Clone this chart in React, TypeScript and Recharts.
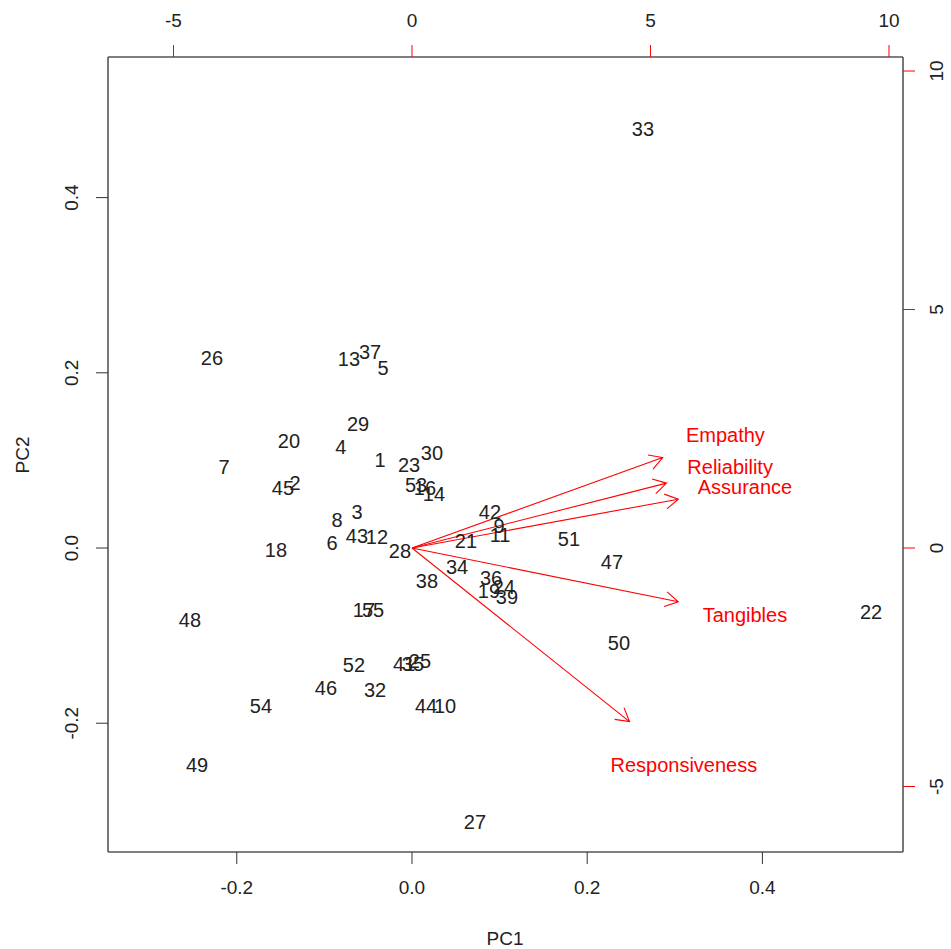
import { ScatterChart, Scatter, XAxis, YAxis, ReferenceLine, Label } from "recharts";

// observation scores (PC1, PC2)
const obsLabels = ["1", "2", "3", "4", "5", "6", "7", "8", "9", "10", "11", "12", "13", "14", "16", "17", "18", "19", "20", "21", "22", "23", "24", "25", "26", "27", "28", "29", "30", "32", "33", "34", "35", "36", "37", "38", "39", "41", "42", "43", "44", "45", "46", "47", "48", "49", "50", "51", "52", "53", "54", "55"];
const obsPc1 = [-0.0365, -0.1336, -0.0628, -0.0811, -0.0331, -0.0913, -0.2146, -0.0856, 0.0993, 0.0377, 0.1005, -0.04, -0.0719, 0.0251, 0.0148, -0.0548, -0.1553, 0.0879, -0.1404, 0.0616, 0.524, -0.0034, 0.105, 0.0091, -0.2283, 0.0719, -0.0137, -0.0616, 0.0228, -0.0422, 0.2637, 0.0514, 0.0011, 0.0902, -0.0479, 0.0171, 0.1084, -0.0091, 0.089, -0.0628, 0.016, -0.1473, -0.0982, 0.2283, -0.2534, -0.2454, 0.2363, 0.1792, -0.0662, 0.0046, -0.1724, -0.0445];
const obsPc2 = [0.1005, 0.0742, 0.0411, 0.1153, 0.2055, 0.0057, 0.0925, 0.032, 0.0251, -0.1804, 0.0148, 0.0126, 0.2158, 0.0616, 0.0685, -0.0708, -0.0023, -0.0491, 0.1221, 0.008, -0.0731, 0.0947, -0.0445, -0.129, 0.2169, -0.3128, -0.0034, 0.1416, 0.1084, -0.1621, 0.4783, -0.0217, -0.1324, -0.0342, 0.2237, -0.0377, -0.0559, -0.1324, 0.0411, 0.0137, -0.1804, 0.0685, -0.1598, -0.016, -0.0822, -0.2477, -0.1084, 0.0103, -0.1336, 0.0719, -0.1804, -0.0708];

// variable loadings (label positions, top/right scale)
const varNames = ["Empathy", "Reliability", "Assurance", "Tangibles", "Responsiveness"];
const varPc1 = [6.57, 6.67, 6.98, 6.98, 5.7];
const varPc2 = [2.37, 1.7, 1.28, -1.41, -4.55];

const pcTicks = [-0.2, 0, 0.2, 0.4];
const loadTicks = [-5, 0, 5, 10];

const pcDomain = [-0.347, 0.5605];
const loadDomain = [-6.373, 10.294];

const obsData = obsLabels.map((label, i) => ({ label, x: obsPc1[i], y: obsPc2[i] }));
const varData = varNames.map((label, i) => ({ label, x: varPc1[i], y: varPc2[i] }));

const FONT = "'Liberation Sans', Arial, sans-serif";
const RED = "#ff0000";
const FRAME = "#555";
const TICK_FS = 19;
const LABEL_FS = 20;

const HTick = (props: any) => {
  const { x, y, payload, fmt } = props;
  return (
    <text x={x} y={y} textAnchor="middle" dominantBaseline="central" fontSize={TICK_FS} fontFamily={FONT} fill="#222">
      {fmt(payload.value)}
    </text>
  );
};

const VTick = (props: any) => {
  const { x, y, payload, fmt } = props;
  return (
    <text x={x} y={y} transform={`rotate(-90, ${x}, ${y})`} textAnchor="middle" dominantBaseline="central" fontSize={TICK_FS} fontFamily={FONT} fill="#222">
      {fmt(payload.value)}
    </text>
  );
};

const pcFmt = (v: number) => v.toFixed(1);
const loadFmt = (v: number) => String(v);

const Arrow = (p: any) => {
  const { x1, y1, x2, y2 } = p;
  const a = Math.atan2(y2 - y1, x2 - x1);
  const len = 15;
  const spread = Math.PI / 6;
  const h1x = x2 - len * Math.cos(a - spread);
  const h1y = y2 - len * Math.sin(a - spread);
  const h2x = x2 - len * Math.cos(a + spread);
  const h2y = y2 - len * Math.sin(a + spread);
  return (
    <path
      d={`M${x1},${y1}L${x2},${y2}M${h1x},${h1y}L${x2},${y2}L${h2x},${h2y}`}
      stroke={RED}
      strokeWidth={1.1}
      fill="none"
    />
  );
};

const ObsText = (p: any) => (
  <text x={p.cx} y={p.cy} textAnchor="middle" dominantBaseline="central" fontSize={LABEL_FS} fontFamily={FONT} fill="#222">
    {p.payload.label}
  </text>
);

const VarText = (p: any) => (
  <text x={p.cx} y={p.cy} textAnchor="middle" dominantBaseline="central" fontSize={LABEL_FS} fontFamily={FONT} fill={RED}>
    {p.payload.label}
  </text>
);

export default function App() {
  return (
    <div style={{ position: "absolute", left: 0, top: 0, width: 951, height: 949, background: "#fff" }}>
      <ScatterChart width={951} height={949} margin={{ top: 0, right: 0, bottom: 0, left: 0 }}>
        <XAxis
          xAxisId="pc"
          dataKey="x"
          type="number"
          orientation="bottom"
          domain={pcDomain}
          ticks={pcTicks}
          allowDataOverflow
          height={97}
          tickSize={12}
          tickMargin={23}
          axisLine={{ stroke: FRAME, strokeWidth: 1.6 }}
          tickLine={{ stroke: "#333" }}
          tick={<HTick fmt={pcFmt} />}
        >
          <Label
            content={() => (
              <text x={505} y={938} textAnchor="middle" dominantBaseline="central" fontSize={TICK_FS} fontFamily={FONT} fill="#222">
                PC1
              </text>
            )}
          />
        </XAxis>
        <XAxis
          xAxisId="load"
          dataKey="x"
          type="number"
          orientation="top"
          domain={loadDomain}
          ticks={loadTicks}
          allowDataOverflow
          height={57}
          tickSize={12}
          tickMargin={25}
          axisLine={{ stroke: FRAME, strokeWidth: 1.6 }}
          tickLine={{ stroke: RED }}
          tick={<HTick fmt={loadFmt} />}
        />
        <YAxis
          yAxisId="pc"
          dataKey="y"
          type="number"
          orientation="left"
          domain={pcDomain}
          ticks={pcTicks}
          allowDataOverflow
          width={108}
          tickSize={12}
          tickMargin={24}
          axisLine={{ stroke: FRAME, strokeWidth: 1.6 }}
          tickLine={{ stroke: "#333" }}
          tick={<VTick fmt={pcFmt} />}
        >
          <Label
            content={() => (
              <text x={22} y={455} transform="rotate(-90, 22, 455)" textAnchor="middle" dominantBaseline="central" fontSize={TICK_FS} fontFamily={FONT} fill="#222">
                PC2
              </text>
            )}
          />
        </YAxis>
        <YAxis
          yAxisId="load"
          dataKey="y"
          type="number"
          orientation="right"
          domain={loadDomain}
          ticks={loadTicks}
          allowDataOverflow
          width={48}
          tickSize={12}
          tickMargin={22}
          axisLine={{ stroke: FRAME, strokeWidth: 1.6 }}
          tickLine={{ stroke: RED }}
          tick={<VTick fmt={loadFmt} />}
        />
        {varData.map((v) => (
          <ReferenceLine
            key={v.label}
            xAxisId="load"
            yAxisId="load"
            segment={[
              { x: 0, y: 0 },
              { x: v.x * 0.8, y: v.y * 0.8 },
            ]}
            shape={Arrow}
          />
        ))}
        <Scatter
          xAxisId="pc"
          yAxisId="pc"
          data={obsData}
          shape={ObsText}
          isAnimationActive={false}
        />
        <Scatter
          xAxisId="load"
          yAxisId="load"
          data={varData}
          shape={VarText}
          isAnimationActive={false}
        />
      </ScatterChart>
    </div>
  );
}
